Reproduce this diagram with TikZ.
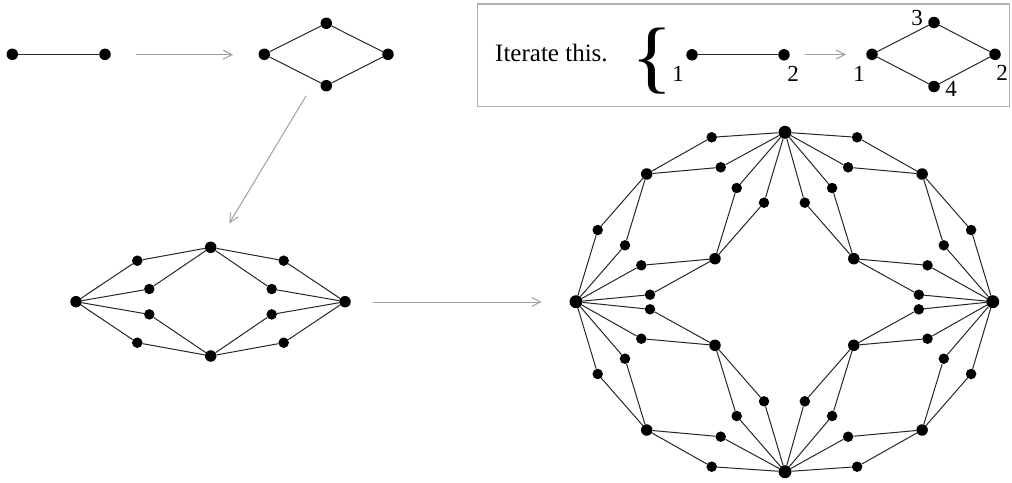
\documentclass[tikz,border=0pt]{standalone}
\usepackage{fontspec}
\setmainfont{Liberation Serif}
\usetikzlibrary{arrows.meta}

\begin{document}
\begin{tikzpicture}[x=1pt,y=-1pt,
  dot/.style={circle,fill=black,inner sep=0pt,minimum size=11.5pt},
  hub/.style={dot,minimum size=13pt},
  sdot/.style={dot,minimum size=10.5pt},
  edge/.style={line width=1pt,black!85},
  iterarrow/.style={gray!75,line width=1pt,-{Straight Barb[length=9pt,width=9pt,line width=1pt]}},
  lbl/.style={font=\fontsize{23}{28}\selectfont,inner sep=0pt}]
\useasboundingbox (0,0) rectangle (1012,482);

% --- single edge and its replacement diamond
\node[dot] (e1) at (12.3,54.3) {};
\node[dot] (e2) at (105,54.3) {};
\draw[edge] (e1) -- (e2);
\coordinate (a1s) at (136,54.7);
\coordinate (a1e) at (233.3,54.7);
\draw[iterarrow] (a1s) -- (a1e);

\node[dot] (d1) at (264.3,54.3) {};
\node[dot] (d3) at (326.3,23.3) {};
\node[dot] (d2) at (388,54.3) {};
\node[dot] (d4) at (326.3,85.7) {};
\draw[edge] (d1) -- (d3) -- (d2) -- (d4) -- (d1);

\coordinate (a2s) at (306,96);
\coordinate (a2e) at (229.3,223.3);
\draw[iterarrow] (a2s) -- (a2e);

% --- second generation
\node[dot] (mL) at (76,301.7) {};
\node[dot] (mR) at (345,301.7) {};
\node[dot] (mT) at (210.7,247.3) {};
\node[dot] (mB) at (210.7,356) {};
\foreach \q/\sx/\sy/\h/\v in {ul/1/1/mL/mT, ur/-1/1/mR/mT, ll/1/-1/mL/mB, lr/-1/-1/mR/mB}{
  \node[sdot] (m\q o) at ({210.5-73.2*\sx},{301.7-41*\sy}) {};
  \node[sdot] (m\q i) at ({210.5-61.2*\sx},{301.7-12.7*\sy}) {};
  \draw[edge] (\h) -- (m\q o) -- (\v);
  \draw[edge] (\h) -- (m\q i) -- (\v);
}

\coordinate (a3s) at (373.3,302);
\coordinate (a3e) at (541.7,302);
\draw[iterarrow] (a3s) -- (a3e);

% --- third generation
\node[hub] (L) at (576,301.7) {};
\node[hub] (R) at (992.7,301.7) {};
\node[hub] (T) at (785,132.3) {};
\node[hub] (B) at (785,471.7) {};
\foreach \q/\sx/\sy/\h/\v in {ul/1/1/L/T, ur/-1/1/R/T, ll/1/-1/L/B, lr/-1/-1/R/B}{
  \node[dot] (\q-o) at ({784.4-137.7*\sx},{302-128*\sy}) {};
  \node[dot] (\q-i) at ({784.4-69.4*\sx},{302-43.3*\sy}) {};
  \node[sdot] (\q-a1) at ({784.4-72.7*\sx},{302-164.7*\sy}) {};
  \node[sdot] (\q-a2) at ({784.4-63.7*\sx},{302-134.7*\sy}) {};
  \node[sdot] (\q-b1) at ({784.4-186.7*\sx},{302-72*\sy}) {};
  \node[sdot] (\q-b2) at ({784.4-159.4*\sx},{302-56.7*\sy}) {};
  \node[sdot] (\q-c1) at ({784.4-143.1*\sx},{302-36.7*\sy}) {};
  \node[sdot] (\q-c2) at ({784.4-134.4*\sx},{302-7.3*\sy}) {};
  \node[sdot] (\q-d1) at ({784.4-47.7*\sx},{302-114*\sy}) {};
  \node[sdot] (\q-d2) at ({784.4-20.4*\sx},{302-99.3*\sy}) {};
  \draw[edge] (\v) -- (\q-a1) -- (\q-o) -- (\q-a2) -- (\v);
  \draw[edge] (\q-o) -- (\q-b1) -- (\h) -- (\q-b2) -- (\q-o);
  \draw[edge] (\h) -- (\q-c1) -- (\q-i) -- (\q-c2) -- (\h);
  \draw[edge] (\q-i) -- (\q-d1) -- (\v) -- (\q-d2) -- (\q-i);
}

% --- the rule, framed
\node[draw=gray!60,line width=1.2pt,inner sep=0pt,minimum width=532pt,minimum height=102.7pt,anchor=north west] (frame) at (476.7,3.3) {};
\node[font=\fontsize{25}{30}\selectfont,inner sep=0pt,anchor=base west] (txt) at (495,61.7) {Iterate this.};
\node[inner sep=0pt,font=\fontsize{80}{80}\selectfont] (brace) at (652,61.5) {\scalebox{1.08}[1]{\{}};

\node[dot] (r1) at (692,54.8) {};
\node[dot] (r2) at (784,54.8) {};
\draw[edge] (r1) -- (r2);
\node[lbl] (r1l) at (678,74) {1};
\node[lbl] (r2l) at (793,74) {2};
\coordinate (a4s) at (805,54.5);
\coordinate (a4e) at (846,54.5);
\draw[iterarrow] (a4s) -- (a4e);

\node[dot] (s1) at (872,54.3) {};
\node[dot] (s3) at (934,22.5) {};
\node[dot] (s2) at (995,54.3) {};
\node[dot] (s4) at (934,86.5) {};
\draw[edge] (s1) -- (s3) -- (s2) -- (s4) -- (s1);
\node[lbl] (s1l) at (859,74) {1};
\node[lbl] (s3l) at (917,18) {3};
\node[lbl] (s2l) at (1002,73) {2};
\node[lbl] (s4l) at (951,89) {4};
\end{tikzpicture}
\end{document}
